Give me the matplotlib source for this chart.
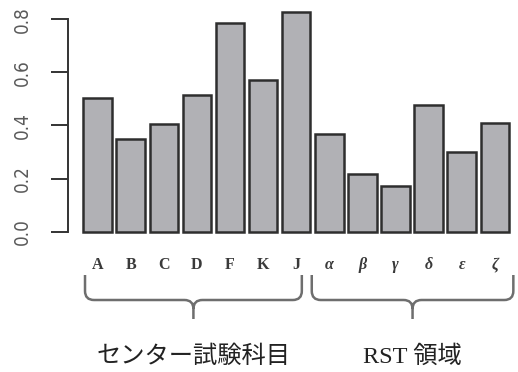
import numpy as np
import matplotlib
matplotlib.use("Agg")
import matplotlib.pyplot as plt
from matplotlib.path import Path
from matplotlib.patches import PathPatch

# 科目ごとの値
labels = ["A", "B", "C", "D", "F", "K", "J", "α", "β", "γ", "δ", "ε", "ζ"]
values = [0.505, 0.348, 0.405, 0.516, 0.786, 0.572, 0.829,
          0.368, 0.217, 0.171, 0.477, 0.301, 0.409]
yticks = [0.0, 0.2, 0.4, 0.6, 0.8]
ytick_labels = ["0.0", "0.2", "0.4", "0.6", "0.8"]

# グループ (名前, 最初のバー, 最後のバー, 左の余白, 右の余白)
groups = [("センター試験科目", 0, 6, -0.38, 0.17),
          ("RST 領域", 7, 12, -0.53, 0.56)]

W, H = 518, 372
fig = plt.figure(figsize=(W / 100, H / 100), dpi=100)
ax = fig.add_axes([68.3 / W, (H - 231.7) / H, (515 - 68.3) / W, (231.7 - 19.3) / H])

x = np.arange(len(values))
ax.bar(x, values, width=0.86, color="#b1b1b5", edgecolor="#2e2e2e",
       linewidth=1.8, clip_on=False)
ax.set_xlim(-0.885, 12.61)
ax.set_ylim(0, 0.8)

# R風の軸
for s in ["top", "right", "bottom"]:
    ax.spines[s].set_visible(False)
ax.spines["left"].set_bounds(0, 0.8)
ax.spines["left"].set_color("#333333")
ax.spines["left"].set_linewidth(1.4)
ax.set_yticks(yticks)
ax.set_yticklabels(ytick_labels, rotation=90, va="center",
                   family="DejaVu Sans", fontstretch="condensed",
                   fontsize=13.5, color="#5a5a5a")
ax.tick_params(axis="y", direction="out", length=12, width=1.4,
               color="#333333", pad=14)

ax.set_xticks(x)
ax.set_xticklabels(labels, family="Liberation Serif", fontsize=11.5,
                   fontweight="bold", color="#3a3a3a")
ax.tick_params(axis="x", length=0, pad=18)
for t in ax.get_xticklabels()[7:]:
    t.set_style("italic")

# 括弧とグループ名はピクセル座標で描く
ov = fig.add_axes([0, 0, 1, 1])
ov.set_xlim(0, W)
ov.set_ylim(H, 0)
ov.axis("off")
ov.patch.set_alpha(0)

fig.canvas.draw()
y_top, y_h, y_c, r = 275, 300, 319, 9
for name, i0, i1, p0, p1 in groups:
    x0 = ax.transData.transform((i0 + p0, 0))[0]
    x1 = ax.transData.transform((i1 + p1, 0))[0]
    xm = (x0 + x1) / 2
    verts = [(x0, y_top), (x0, y_h - r), (x0, y_h), (x0 + r, y_h),
             (xm - r, y_h), (xm, y_h), (xm, y_h + r), (xm, y_c),
             (xm, y_h + r), (xm, y_h), (xm + r, y_h),
             (x1 - r, y_h), (x1, y_h), (x1, y_h - r), (x1, y_top)]
    codes = [Path.MOVETO, Path.LINETO, Path.CURVE3, Path.CURVE3,
             Path.LINETO, Path.CURVE3, Path.CURVE3, Path.LINETO,
             Path.MOVETO, Path.CURVE3, Path.CURVE3,
             Path.LINETO, Path.CURVE3, Path.CURVE3, Path.LINETO]
    ov.add_patch(PathPatch(Path(verts, codes), fill=False,
                           edgecolor="#6e6e6e", linewidth=1.8))
    ov.text(xm, 357, name, ha="center", va="center", fontsize=17.5,
            family=["Liberation Serif", "Noto Sans CJK JP"], color="#222222")

fig.savefig("out.png", dpi=100)
